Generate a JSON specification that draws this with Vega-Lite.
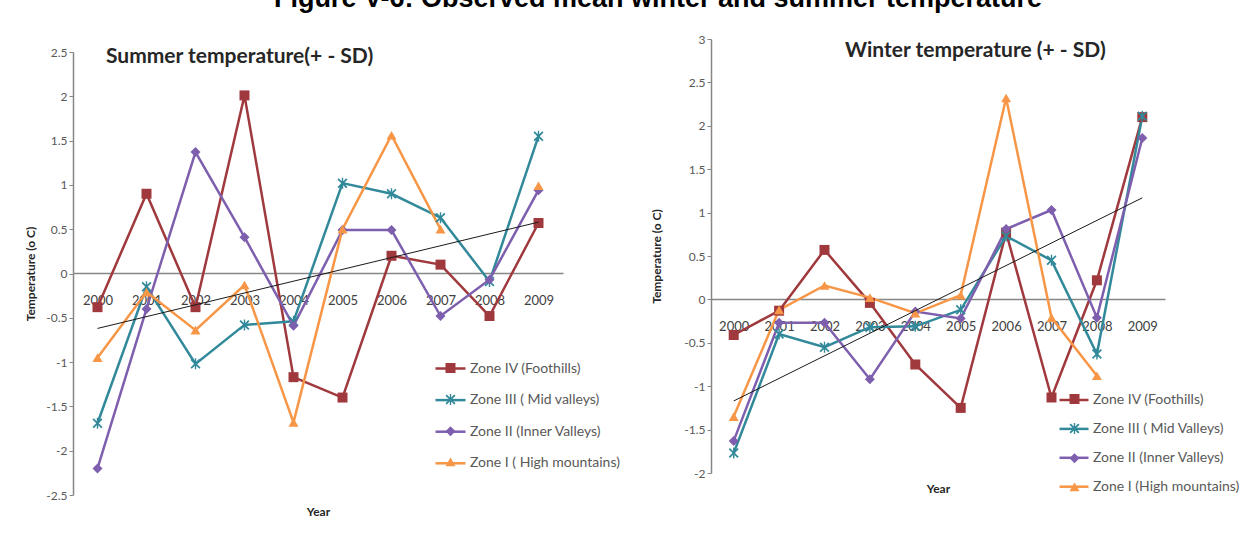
{
  "$schema": "https://vega.github.io/schema/vega-lite/v6.json",
  "padding": {"left": 24, "top": -15, "right": 0, "bottom": 0},
  "title": {"text": "Figure V-6: Observed mean winter and summer temperature", "font": "Liberation Sans", "fontSize": 27, "fontWeight": "bold", "color": "#000000", "anchor": "middle", "offset": 20, "dx": 26},
  "datasets": {
    "summer": [
      {"year": 2000, "zone": "Zone IV (Foothills)", "value": -0.38},
      {"year": 2001, "zone": "Zone IV (Foothills)", "value": 0.9},
      {"year": 2002, "zone": "Zone IV (Foothills)", "value": -0.38},
      {"year": 2003, "zone": "Zone IV (Foothills)", "value": 2.01},
      {"year": 2004, "zone": "Zone IV (Foothills)", "value": -1.17},
      {"year": 2005, "zone": "Zone IV (Foothills)", "value": -1.4},
      {"year": 2006, "zone": "Zone IV (Foothills)", "value": 0.2},
      {"year": 2007, "zone": "Zone IV (Foothills)", "value": 0.1},
      {"year": 2008, "zone": "Zone IV (Foothills)", "value": -0.48},
      {"year": 2009, "zone": "Zone IV (Foothills)", "value": 0.57},
      {"year": 2000, "zone": "Zone III ( Mid valleys)", "value": -1.69},
      {"year": 2001, "zone": "Zone III ( Mid valleys)", "value": -0.15},
      {"year": 2002, "zone": "Zone III ( Mid valleys)", "value": -1.02},
      {"year": 2003, "zone": "Zone III ( Mid valleys)", "value": -0.58},
      {"year": 2004, "zone": "Zone III ( Mid valleys)", "value": -0.54},
      {"year": 2005, "zone": "Zone III ( Mid valleys)", "value": 1.02},
      {"year": 2006, "zone": "Zone III ( Mid valleys)", "value": 0.9},
      {"year": 2007, "zone": "Zone III ( Mid valleys)", "value": 0.63},
      {"year": 2008, "zone": "Zone III ( Mid valleys)", "value": -0.09},
      {"year": 2009, "zone": "Zone III ( Mid valleys)", "value": 1.55},
      {"year": 2000, "zone": "Zone II (Inner Valleys)", "value": -2.2},
      {"year": 2001, "zone": "Zone II (Inner Valleys)", "value": -0.4},
      {"year": 2002, "zone": "Zone II (Inner Valleys)", "value": 1.37},
      {"year": 2003, "zone": "Zone II (Inner Valleys)", "value": 0.41},
      {"year": 2004, "zone": "Zone II (Inner Valleys)", "value": -0.59},
      {"year": 2005, "zone": "Zone II (Inner Valleys)", "value": 0.49},
      {"year": 2006, "zone": "Zone II (Inner Valleys)", "value": 0.49},
      {"year": 2007, "zone": "Zone II (Inner Valleys)", "value": -0.48},
      {"year": 2008, "zone": "Zone II (Inner Valleys)", "value": -0.07},
      {"year": 2009, "zone": "Zone II (Inner Valleys)", "value": 0.94},
      {"year": 2000, "zone": "Zone I ( High mountains)", "value": -0.95},
      {"year": 2001, "zone": "Zone I ( High mountains)", "value": -0.21},
      {"year": 2002, "zone": "Zone I ( High mountains)", "value": -0.64},
      {"year": 2003, "zone": "Zone I ( High mountains)", "value": -0.13},
      {"year": 2004, "zone": "Zone I ( High mountains)", "value": -1.68},
      {"year": 2005, "zone": "Zone I ( High mountains)", "value": 0.5},
      {"year": 2006, "zone": "Zone I ( High mountains)", "value": 1.56},
      {"year": 2007, "zone": "Zone I ( High mountains)", "value": 0.5},
      {"year": 2008, "zone": "Zone I ( High mountains)", "value": null},
      {"year": 2009, "zone": "Zone I ( High mountains)", "value": 0.99}
    ],
    "winter": [
      {"year": 2000, "zone": "Zone IV (Foothills)", "value": -0.41},
      {"year": 2001, "zone": "Zone IV (Foothills)", "value": -0.13},
      {"year": 2002, "zone": "Zone IV (Foothills)", "value": 0.57},
      {"year": 2003, "zone": "Zone IV (Foothills)", "value": -0.04},
      {"year": 2004, "zone": "Zone IV (Foothills)", "value": -0.75},
      {"year": 2005, "zone": "Zone IV (Foothills)", "value": -1.25},
      {"year": 2006, "zone": "Zone IV (Foothills)", "value": 0.77},
      {"year": 2007, "zone": "Zone IV (Foothills)", "value": -1.13},
      {"year": 2008, "zone": "Zone IV (Foothills)", "value": 0.22},
      {"year": 2009, "zone": "Zone IV (Foothills)", "value": 2.1},
      {"year": 2000, "zone": "Zone III ( Mid Valleys)", "value": -1.77},
      {"year": 2001, "zone": "Zone III ( Mid Valleys)", "value": -0.4},
      {"year": 2002, "zone": "Zone III ( Mid Valleys)", "value": -0.55},
      {"year": 2003, "zone": "Zone III ( Mid Valleys)", "value": -0.32},
      {"year": 2004, "zone": "Zone III ( Mid Valleys)", "value": -0.31},
      {"year": 2005, "zone": "Zone III ( Mid Valleys)", "value": -0.12},
      {"year": 2006, "zone": "Zone III ( Mid Valleys)", "value": 0.73},
      {"year": 2007, "zone": "Zone III ( Mid Valleys)", "value": 0.45},
      {"year": 2008, "zone": "Zone III ( Mid Valleys)", "value": -0.63},
      {"year": 2009, "zone": "Zone III ( Mid Valleys)", "value": 2.11},
      {"year": 2000, "zone": "Zone II (Inner Valleys)", "value": -1.63},
      {"year": 2001, "zone": "Zone II (Inner Valleys)", "value": -0.27},
      {"year": 2002, "zone": "Zone II (Inner Valleys)", "value": -0.27},
      {"year": 2003, "zone": "Zone II (Inner Valleys)", "value": -0.92},
      {"year": 2004, "zone": "Zone II (Inner Valleys)", "value": -0.14},
      {"year": 2005, "zone": "Zone II (Inner Valleys)", "value": -0.22},
      {"year": 2006, "zone": "Zone II (Inner Valleys)", "value": 0.81},
      {"year": 2007, "zone": "Zone II (Inner Valleys)", "value": 1.03},
      {"year": 2008, "zone": "Zone II (Inner Valleys)", "value": -0.21},
      {"year": 2009, "zone": "Zone II (Inner Valleys)", "value": 1.86},
      {"year": 2000, "zone": "Zone I (High mountains)", "value": -1.35},
      {"year": 2001, "zone": "Zone I (High mountains)", "value": -0.12},
      {"year": 2002, "zone": "Zone I (High mountains)", "value": 0.16},
      {"year": 2003, "zone": "Zone I (High mountains)", "value": 0.02},
      {"year": 2004, "zone": "Zone I (High mountains)", "value": -0.16},
      {"year": 2005, "zone": "Zone I (High mountains)", "value": 0.05},
      {"year": 2006, "zone": "Zone I (High mountains)", "value": 2.32},
      {"year": 2007, "zone": "Zone I (High mountains)", "value": -0.21},
      {"year": 2008, "zone": "Zone I (High mountains)", "value": -0.88}
    ],
    "summerTrend": [
      {"year": 2000, "value": -0.62},
      {"year": 2009, "value": 0.58}
    ],
    "winterTrend": [
      {"year": 2000, "value": -1.17},
      {"year": 2009, "value": 1.17}
    ]
  },
  "spacing": 30,
  "hconcat": [
    {
      "spacing": 6,
      "vconcat": [
        {
          "width": 490,
          "height": 1,
          "data": {"values": []},
          "mark": "point"
        },
        {
          "width": 490,
          "height": 443,
          "title": {"text": "Summer temperature(+ - SD)", "anchor": "start", "frame": "group", "dx": 33, "offset": -21, "font": "Lato", "fontSize": 21, "fontWeight": "bold", "color": "#262626"},
          "layer": [
            {
              "data": {"name": "summer"},
              "mark": {"type": "line", "strokeWidth": 2.5, "invalid": "break-paths-show-domains"},
              "encoding": {
                "x": {"field": "year", "type": "quantitative", "scale": {"domain": [1999.5, 2009.5], "nice": false, "zero": false},
                  "axis": {"values": [2000, 2001, 2002, 2003, 2004, 2005, 2006, 2007, 2008, 2009], "format": "d", "offset": -222, "ticks": false, "domainColor": "#868686", "domainWidth": 1.5, "labelColor": "#404040", "labelFontSize": 13, "labelPadding": 21, "title": "Year", "titleY": 238, "titleBaseline": "middle", "titleFontSize": 12, "titleFontWeight": "bold", "titleColor": "#262626"}},
                "y": {"field": "value", "type": "quantitative", "scale": {"domain": [-2.5, 2.5], "nice": false, "zero": false},
                  "axis": {"values": [-2.5, -2, -1.5, -1, -0.5, 0, 0.5, 1, 1.5, 2, 2.5], "format": "~g", "domainColor": "#868686", "domainWidth": 1.5, "tickColor": "#868686", "tickSize": 4, "labelColor": "#595959", "labelFontSize": 12, "title": "Temperature (o C)", "titleX": -36, "titleFontSize": 12, "titleFontWeight": "bold", "titleColor": "#262626"}},
                "stroke": {"field": "zone", "type": "nominal",
                  "scale": {"domain": ["Zone IV (Foothills)", "Zone III ( Mid valleys)", "Zone II (Inner Valleys)", "Zone I ( High mountains)"], "range": ["#A0393D", "#31899A", "#7E5FAE", "#F79646"]},
                  "legend": {"orient": "none", "legendX": 361, "legendY": 313, "title": null, "symbolType": "stroke", "symbolSize": 900, "symbolStrokeWidth": 2.5, "labelOffset": 3, "labelFontSize": 14, "labelColor": "#595959", "rowPadding": 7.6}}
              }
            },
            {
              "data": {"name": "summer"},
              "mark": {"type": "point", "filled": true, "size": 100, "opacity": 1},
              "encoding": {
                "x": {"field": "year", "type": "quantitative"},
                "y": {"field": "value", "type": "quantitative"},
                "fill": {"field": "zone", "type": "nominal", "sort": "descending", "scale": {"range": ["#A0393D", "#31899A", "#7E5FAE", "#F79646"]},
                  "legend": {"orient": "none", "legendX": 371, "legendY": 322.5, "title": null, "labelExpr": "''", "labelFontSize": 13, "rowPadding": 14.6, "symbolSize": 100}},
                "shape": {"field": "zone", "type": "nominal", "sort": "descending", "scale": {"range": ["square", "M-1,-0.75L-0.75,-1L0,-0.25L0.75,-1L1,-0.75L0.25,0L1,0.75L0.75,1L0,0.25L-0.75,1L-1,0.75L-0.25,0ZM-0.14,-1.1L0.14,-1.1L0.14,1.1L-0.14,1.1Z", "diamond", "triangle-up"]},
                  "legend": {"orient": "none", "legendX": 371, "legendY": 322.5, "title": null, "labelExpr": "''", "labelFontSize": 13, "rowPadding": 14.6, "symbolSize": 100}}
              }
            },
            {
              "data": {"name": "summerTrend"},
              "mark": {"type": "line", "color": "#1a1a1a", "strokeWidth": 1},
              "encoding": {
                "x": {"field": "year", "type": "quantitative"},
                "y": {"field": "value", "type": "quantitative"}
              }
            }
          ]
        }
      ]
    },
    {
      "width": 454,
      "height": 434,
      "title": {"text": "Winter temperature (+ - SD)", "anchor": "start", "frame": "group", "dx": 134, "offset": -28, "font": "Lato", "fontSize": 21, "fontWeight": "bold", "color": "#262626"},
      "layer": [
        {
          "data": {"name": "winter"},
          "mark": {"type": "line", "strokeWidth": 2.5},
          "encoding": {
            "x": {"field": "year", "type": "quantitative", "scale": {"domain": [1999.5, 2009.5], "nice": false, "zero": false},
              "axis": {"values": [2000, 2001, 2002, 2003, 2004, 2005, 2006, 2007, 2008, 2009], "format": "d", "offset": -174, "ticks": false, "domainColor": "#868686", "domainWidth": 1.5, "labelColor": "#404040", "labelFontSize": 13, "labelPadding": 21, "title": "Year", "titleY": 189, "titleBaseline": "middle", "titleFontSize": 12, "titleFontWeight": "bold", "titleColor": "#262626"}},
            "y": {"field": "value", "type": "quantitative", "scale": {"domain": [-2, 3], "nice": false, "zero": false},
              "axis": {"values": [-2, -1.5, -1, -0.5, 0, 0.5, 1, 1.5, 2, 2.5, 3], "format": "~g", "domainColor": "#868686", "domainWidth": 1.5, "tickColor": "#868686", "tickSize": 4, "labelColor": "#595959", "labelFontSize": 12, "title": "Temperature (o C)", "titleX": -48, "titleFontSize": 12, "titleFontWeight": "bold", "titleColor": "#262626"}},
            "stroke": {"field": "zone", "type": "nominal",
              "scale": {"domain": ["Zone IV (Foothills)", "Zone III ( Mid Valleys)", "Zone II (Inner Valleys)", "Zone I (High mountains)"], "range": ["#A0393D", "#31899A", "#7E5FAE", "#F79646"]},
              "legend": {"orient": "none", "legendX": 347, "legendY": 345, "title": null, "symbolType": "stroke", "symbolSize": 841, "symbolStrokeWidth": 2.5, "labelOffset": 3, "labelFontSize": 14, "labelColor": "#595959", "rowPadding": 5.9}}
          }
        },
        {
          "data": {"name": "winter"},
          "mark": {"type": "point", "filled": true, "size": 100, "opacity": 1},
          "encoding": {
            "x": {"field": "year", "type": "quantitative"},
            "y": {"field": "value", "type": "quantitative"},
            "fill": {"field": "zone", "type": "nominal", "sort": "descending", "scale": {"range": ["#A0393D", "#31899A", "#7E5FAE", "#F79646"]},
              "legend": {"orient": "none", "legendX": 357, "legendY": 353.5, "title": null, "labelExpr": "''", "labelFontSize": 13, "rowPadding": 12.6, "symbolSize": 100}},
            "shape": {"field": "zone", "type": "nominal", "sort": "descending", "scale": {"range": ["square", "M-1,-0.75L-0.75,-1L0,-0.25L0.75,-1L1,-0.75L0.25,0L1,0.75L0.75,1L0,0.25L-0.75,1L-1,0.75L-0.25,0ZM-0.14,-1.1L0.14,-1.1L0.14,1.1L-0.14,1.1Z", "diamond", "triangle-up"]},
              "legend": {"orient": "none", "legendX": 357, "legendY": 353.5, "title": null, "labelExpr": "''", "labelFontSize": 13, "rowPadding": 12.6, "symbolSize": 100}}
          }
        },
        {
          "data": {"name": "winterTrend"},
          "mark": {"type": "line", "color": "#1a1a1a", "strokeWidth": 1},
          "encoding": {
            "x": {"field": "year", "type": "quantitative"},
            "y": {"field": "value", "type": "quantitative"}
          }
        }
      ]
    }
  ],
  "resolve": {"scale": {"stroke": "independent", "fill": "independent", "shape": "independent"}, "legend": {"stroke": "independent", "fill": "independent", "shape": "independent"}},
  "config": {
    "view": {"stroke": null},
    "font": "Lato",
    "locale": {"number": {"decimal": ".", "thousands": ",", "grouping": [3], "currency": ["$", ""], "minus": "-"}},
    "axis": {"grid": false, "labelFont": "Lato", "titleFont": "Lato"},
    "legend": {"padding": 0, "labelFont": "Lato"}
  }
}
